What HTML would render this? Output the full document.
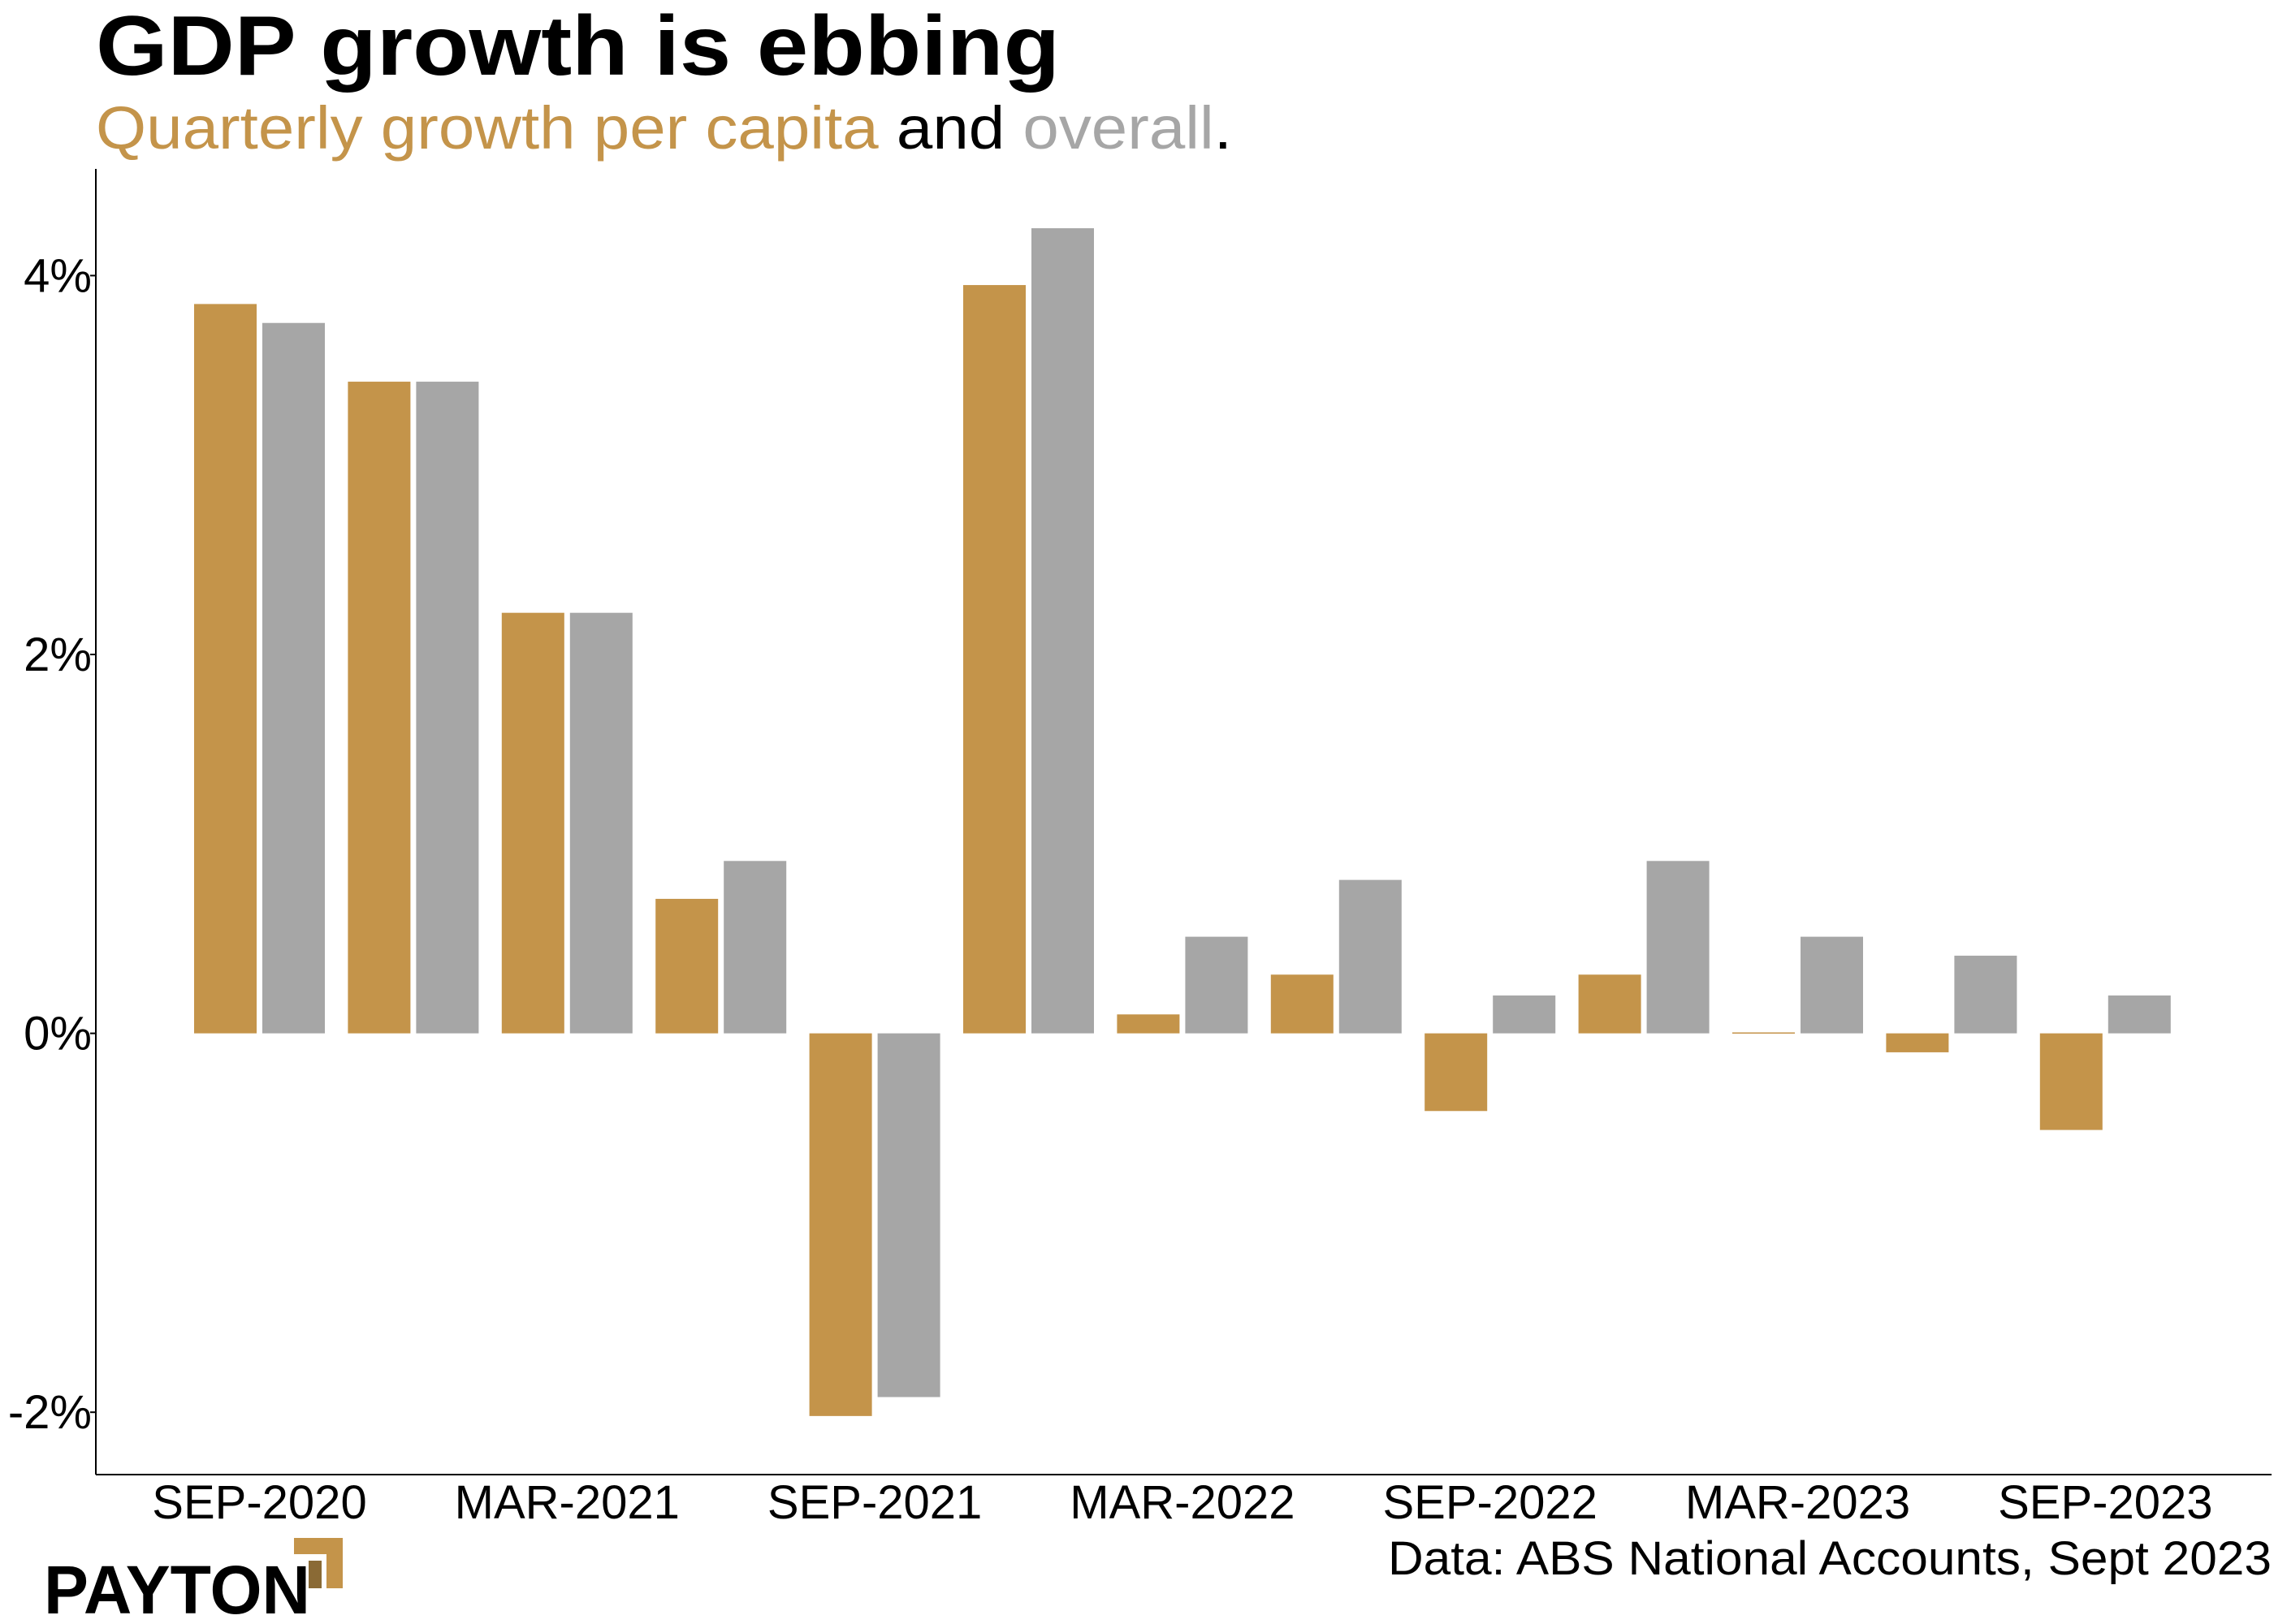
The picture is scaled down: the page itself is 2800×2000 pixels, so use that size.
<!DOCTYPE html>
<html><head><meta charset="utf-8"><style>
body{margin:0;background:#fff;}
svg{display:block;font-family:"Liberation Sans",sans-serif;}
</style></head><body>
<svg id="chart" width="2800" height="2000" viewBox="0 0 2800 2000" xmlns="http://www.w3.org/2000/svg">
<text x="118" y="92" font-size="104" font-weight="bold" fill="#000" textLength="1187" lengthAdjust="spacingAndGlyphs">GDP growth is ebbing</text>
<text x="118" y="183" font-size="74" textLength="1399" lengthAdjust="spacingAndGlyphs"><tspan fill="#C4944A">Quarterly growth per capita</tspan><tspan fill="#000"> and </tspan><tspan fill="#A6A6A6">overall</tspan><tspan fill="#000">.</tspan></text>
<g id="plot"></g>
<text x="1709" y="1939" font-size="58" fill="#000" textLength="1088" lengthAdjust="spacingAndGlyphs">Data: ABS National Accounts, Sept 2023</text>
<g>
<text x="54" y="1987" font-size="84" font-weight="bold" fill="#000" textLength="328" lengthAdjust="spacingAndGlyphs">PAYTON</text>
<polygon points="362,1894 422,1894 422,1956 402,1956 402,1914 362,1914" fill="#C4944A"/>
<polygon points="380,1922 396,1922 396,1956 380,1956" fill="#8a6a35"/>
</g>
</svg>
<script>
const categories=["SEP-2020","DEC-2020","MAR-2021","JUN-2021","SEP-2021","DEC-2021","MAR-2022","JUN-2022","SEP-2022","DEC-2022","MAR-2023","JUN-2023","SEP-2023"];
const perCapita=[3.85,3.44,2.22,0.71,-2.02,3.95,0.10,0.31,-0.41,0.31,0.005,-0.10,-0.51];
const overall=[3.75,3.44,2.22,0.91,-1.92,4.25,0.51,0.81,0.20,0.91,0.51,0.41,0.20];
const yTicks=[-2,0,2,4];
const yTickLabels=["-2%","0%","2%","4%"];
const NS="http://www.w3.org/2000/svg";
const g=document.getElementById('plot');
const x0=118,yTop=208,yBot=1816,xEnd=2797;
function y(v){return 1272.6-v*233.3;}
function xc(i){return 319.5+i*189.4;}
const bw=77,gap=7;
function mk(t,a){const e=document.createElementNS(NS,t);for(const k in a)e.setAttribute(k,a[k]);g.appendChild(e);return e;}
categories.forEach((c,i)=>{
  const c1=xc(i);
  let v=perCapita[i];
  let r=mk('rect',{x:c1-gap/2-bw,y:Math.min(y(v),y(0)),width:bw,height:Math.max(Math.abs(y(v)-y(0)),1.5),fill:'#C4944A'});
  
  
  v=overall[i];
  r=mk('rect',{x:c1+gap/2,y:Math.min(y(v),y(0)),width:bw,height:Math.max(Math.abs(y(v)-y(0)),1.5),fill:'#A6A6A6'});
  
  
  if(i%2===0){
    const t=mk('text',{x:c1,y:1870,'font-size':58,'text-anchor':'middle',fill:'#000'});
    t.textContent=c;
    
    
  }
});
yTicks.forEach((v,i)=>{
  const l=mk('line',{x1:x0-7,x2:x0,y1:y(v),y2:y(v),stroke:'#000','stroke-width':2});
  
  
  const t=mk('text',{x:x0-5,y:y(v)+20,'font-size':58,'text-anchor':'end',fill:'#000'});
  t.textContent=yTickLabels[i];
  
  
});
let a=mk('line',{x1:x0,x2:x0,y1:yTop,y2:yBot,stroke:'#000','stroke-width':2});


a=mk('line',{x1:x0,x2:xEnd,y1:yBot,y2:yBot,stroke:'#000','stroke-width':2});


</script>
</body></html>
